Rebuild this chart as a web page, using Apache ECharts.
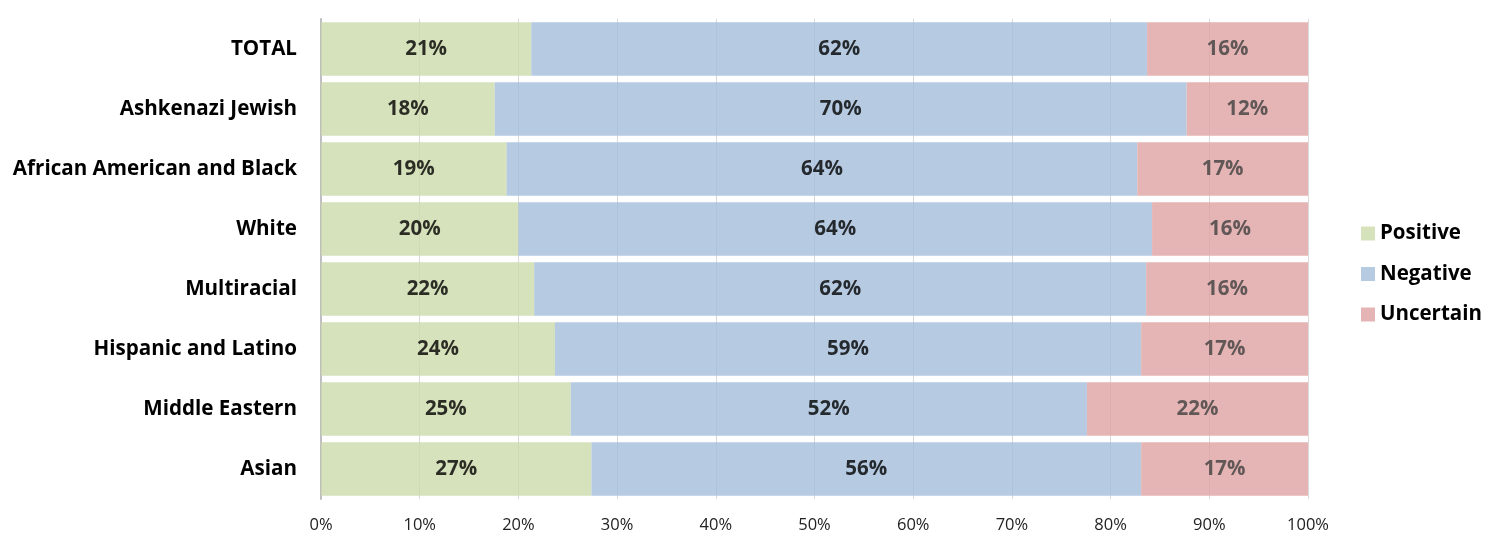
<!DOCTYPE html>
<html>
<head>
<meta charset="utf-8">
<script src="https://cdn.jsdelivr.net/npm/echarts@6/dist/echarts.min.js"></script>
<style>
html,body{margin:0;padding:0;background:#fff;}
#chart{width:1500px;height:547px;}
</style>
</head>
<body>
<div id="chart"></div>
<script>
var categories = ['TOTAL','Ashkenazi Jewish','African American and Black','White','Multiracial','Hispanic and Latino','Middle Eastern','Asian'];
var positive  = [21.3, 17.6, 18.8, 20.0, 21.6, 23.7, 25.3, 27.4];
var negative  = [62.4, 70.1, 63.9, 64.2, 62.0, 59.4, 52.3, 55.7];
var uncertain = [16.3, 12.3, 17.3, 15.8, 16.4, 16.9, 22.4, 16.9];
var seriesNames = ['Positive','Negative','Uncertain'];
var xTicks = [0,10,20,30,40,50,60,70,80,90,100];

var FONT = '"Open Sans"';
var chart = echarts.init(document.getElementById('chart'), null, {renderer:'canvas'});

function mk(name, data, color, labelColor){
  return {
    name: name,
    type: 'bar',
    stack: 'all',
    data: data,
    barCategoryGap: '11%',
    itemStyle: {color: color, opacity: 0.8},
    label: {
      show: true,
      position: 'inside',
      formatter: function(p){ return Math.round(p.value) + '%'; },
      color: labelColor,
      fontFamily: FONT,
      fontWeight: 'bold',
      fontSize: 20.5
    },
    emphasis: {disabled: true}
  };
}

chart.setOption({
  animation: false,
  backgroundColor: '#fff',
  textStyle: {fontFamily: FONT},
  grid: {left: 321, right: 192, top: 19, bottom: 48, containLabel: false},
  legend: {
    orient: 'vertical',
    left: 1356,
    top: 218,
    itemWidth: 14,
    itemHeight: 14,
    itemGap: 19.5,
    icon: 'rect',
    data: seriesNames,
    textStyle: {fontFamily: FONT, fontWeight: 'bold', fontSize: 20.5, color: '#000'}
  },
  xAxis: {
    type: 'value',
    min: 0, max: 100, interval: 10,
    axisLine: {show: false},
    axisTick: {show: false},
    splitLine: {show: true, lineStyle: {color: '#d9d9d9', width: 1}},
    axisLabel: {
      fontFamily: FONT, fontSize: 16.5, color: '#222', margin: 18,
      formatter: function(v){ return xTicks.indexOf(v) >= 0 ? v + '%' : ''; }
    }
  },
  yAxis: {
    type: 'category',
    inverse: true,
    data: categories,
    axisLine: {show: true, lineStyle: {color: '#bfbfbf', width: 2}},
    axisTick: {show: false},
    axisLabel: {fontFamily: FONT, fontWeight: 'bold', fontSize: 20.6, color: '#000', margin: 24}
  },
  series: [
    mk(seriesNames[0], positive, 'rgb(204,219,170)', '#000'),
    mk(seriesNames[1], negative, 'rgb(164,189,219)', '#000'),
    mk(seriesNames[2], uncertain, 'rgb(223,163,163)', '#404040')
  ]
});
</script>
</body>
</html>
